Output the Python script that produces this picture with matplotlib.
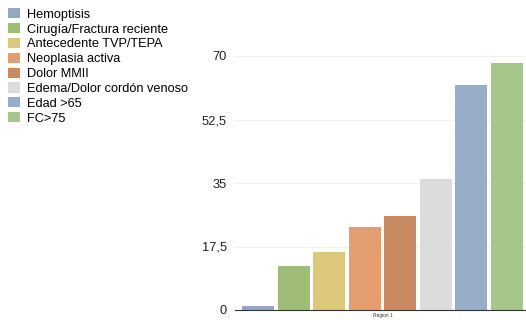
import matplotlib
matplotlib.use("Agg")
import matplotlib.pyplot as plt
from matplotlib.patches import Patch
import numpy as np

categories = ["Hemoptisis", "Cirugía/Fractura reciente", "Antecedente TVP/TEPA",
              "Neoplasia activa", "Dolor MMII", "Edema/Dolor cordón venoso",
              "Edad >65", "FC>75"]
values = [1, 12, 16, 23, 26, 36, 62, 68]
colors = ["#93a8c5", "#9fbd77", "#dbc87a", "#e49d70", "#c98a62",
          "#dcdcdc", "#98adc8", "#a8c689"]
group_label = "Region 1"
yticks = [0, 17.5, 35, 52.5, 70]
ytick_labels = ["0", "17,5", "35", "52,5", "70"]

plt.rcParams["font.family"] = ["Liberation Sans", "DejaVu Sans"]

W, H = 526, 320
fig = plt.figure(figsize=(W / 100, H / 100), dpi=100)
ax = fig.add_axes([235 / W, 1 - 310 / H, (526 - 235) / W, (310 - 56) / H])

x = np.arange(len(values))
ax.bar(x, values, width=0.9, color=colors, zorder=3)

ax.set_xlim(-0.646, 7.534)
ax.set_ylim(0, 70)
ax.set_yticks(yticks)
ax.set_yticklabels(ytick_labels, fontsize=9.3, color="#222222")
ax.set_xticks([3.5])
ax.set_xticklabels([group_label], fontsize=3.5, color="#333333")
ax.tick_params(axis="both", length=0)
ax.tick_params(axis="y", pad=6)
ax.tick_params(axis="x", pad=2)
ax.grid(axis="y", color="#f2f2f2", linewidth=0.8, zorder=0)
for side in ["top", "right", "left"]:
    ax.spines[side].set_visible(False)
ax.spines["bottom"].set_color("#333333")
ax.spines["bottom"].set_linewidth(0.8)
ax.spines["bottom"].set_zorder(4)

handles = [Patch(facecolor=c, edgecolor="none") for c in colors]
fig.legend(handles, categories, loc="upper left", bbox_to_anchor=(0.0, 1.0),
           frameon=False, fontsize=9.2, handlelength=0.95, handleheight=0.85,
           handletextpad=0.5, labelspacing=0.18, borderaxespad=0.45,
           borderpad=0.2)

fig.savefig("out.png", dpi=100)
